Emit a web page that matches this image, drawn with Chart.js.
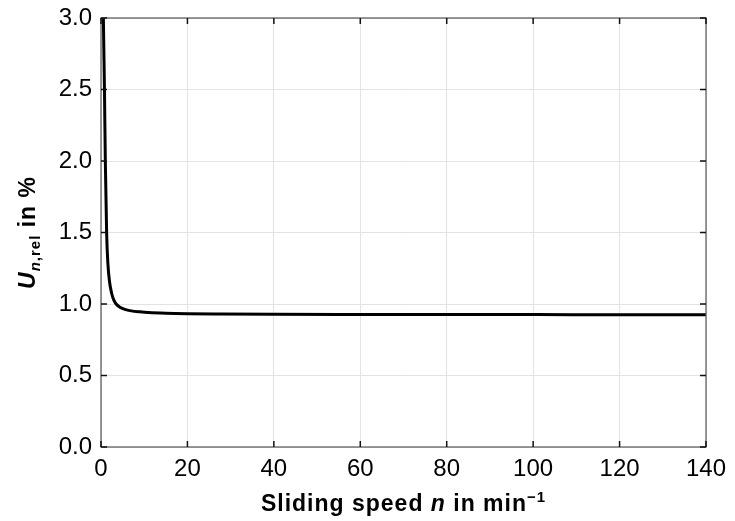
<!DOCTYPE html>
<html>
<head>
<meta charset="utf-8">
<script src="https://cdn.jsdelivr.net/npm/chart.js@4/dist/chart.umd.min.js"></script>
<style>
  html, body { margin: 0; padding: 0; background: #fff; }
  #wrap { width: 735px; height: 521px; }
</style>
</head>
<body>
<div id="wrap"><canvas id="chart" width="735" height="521"></canvas></div>
<script>
// values
const speeds = [0.45, 0.55, 0.8, 1.0, 1.3, 1.6, 2.0, 2.5, 3.0, 3.5, 4.5, 5.5, 7, 9, 11, 15, 20, 27.5, 40, 60, 80, 100, 120, 140];
const uncertainty = [3.3, 3.0, 2.5, 2.0, 1.5, 1.28, 1.15, 1.07, 1.025, 1.0, 0.975, 0.962, 0.952, 0.945, 0.94, 0.935, 0.932, 0.93, 0.928, 0.927, 0.926, 0.926, 0.925, 0.925];
const xTicks = [0, 20, 40, 60, 80, 100, 120, 140];
const yTicks = [0, 0.5, 1.0, 1.5, 2.0, 2.5, 3.0];

const FONT = "'Liberation Sans', Arial, sans-serif";

// draw a row of text pieces with different fonts, centred on (0,0)
function drawPieces(ctx, pieces) {
  ctx.letterSpacing = "1px";
  let total = 0;
  pieces.forEach((p) => {
    ctx.font = p.font;
    p.w = ctx.measureText(p.text).width;
    total += p.w;
  });
  let x = -total / 2;
  ctx.textBaseline = "alphabetic";
  ctx.textAlign = "left";
  pieces.forEach((p) => {
    ctx.font = p.font;
    ctx.fillText(p.text, x, p.dy || 0);
    x += p.w;
  });
}

const framePlugin = {
  id: "frame",
  afterDraw(chart) {
    const ctx = chart.ctx;
    const a = chart.chartArea;
    const sx = chart.scales.x;
    const sy = chart.scales.y;
    ctx.save();
    // box
    ctx.strokeStyle = "#555";
    ctx.lineWidth = 1.2;
    ctx.strokeRect(a.left, a.top, a.right - a.left, a.bottom - a.top);
    // inward ticks
    ctx.strokeStyle = "#111";
    ctx.lineWidth = 1.5;
    ctx.beginPath();
    xTicks.forEach((v) => {
      const px = sx.getPixelForValue(v);
      ctx.moveTo(px, a.bottom);
      ctx.lineTo(px, a.bottom - 6);
      ctx.moveTo(px, a.top);
      ctx.lineTo(px, a.top + 6);
    });
    yTicks.forEach((v) => {
      const py = sy.getPixelForValue(v);
      ctx.moveTo(a.left, py);
      ctx.lineTo(a.left + 6, py);
      ctx.moveTo(a.right, py);
      ctx.lineTo(a.right - 6, py);
    });
    ctx.stroke();

    ctx.fillStyle = "#000";
    // x title
    ctx.save();
    ctx.translate((a.left + a.right) / 2, 511);
    drawPieces(ctx, [
      { text: "Sliding speed ", font: "bold 23px " + FONT },
      { text: "n", font: "italic bold 23px " + FONT },
      { text: " in min", font: "bold 23px " + FONT },
      { text: "\u22121", font: "bold 15px " + FONT, dy: -9 },
    ]);
    ctx.restore();
    // y title
    ctx.save();
    ctx.translate(35, (a.top + a.bottom) / 2);
    ctx.rotate(-Math.PI / 2);
    drawPieces(ctx, [
      { text: "U", font: "italic bold 23px " + FONT },
      { text: "n", font: "italic bold 15px " + FONT, dy: 5 },
      { text: ",rel", font: "bold 15px " + FONT, dy: 5 },
      { text: " in %", font: "bold 23px " + FONT },
    ]);
    ctx.restore();
    ctx.restore();
  },
};

new Chart(document.getElementById("chart").getContext("2d"), {
  type: "line",
  data: {
    datasets: [
      {
        data: speeds.map((s, i) => ({ x: s, y: uncertainty[i] })),
        borderColor: "#000",
        borderWidth: 3,
        pointRadius: 0,
        cubicInterpolationMode: "monotone",
        clip: 0,
      },
    ],
  },
  options: {
    responsive: false,
    animation: false,
    layout: { padding: { left: 0, right: 29, top: 18, bottom: 0 } },
    plugins: { legend: { display: false }, tooltip: { enabled: false } },
    scales: {
      x: {
        type: "linear",
        min: 0,
        max: 140,
        afterBuildTicks: (s) => (s.ticks = xTicks.map((v) => ({ value: v }))),
        afterFit: (s) => {
          s.height = 74;
          s.paddingLeft = 0;
          s.paddingRight = 0;
        },
        ticks: { color: "#000", font: { family: FONT, size: 24 }, padding: 8, maxRotation: 0 },
        grid: { color: "#e3e3e3", drawTicks: false },
        border: { display: false },
      },
      y: {
        min: 0,
        max: 3,
        afterBuildTicks: (s) => (s.ticks = yTicks.map((v) => ({ value: v }))),
        afterFit: (s) => {
          s.width = 101;
          s.paddingTop = 0;
          s.paddingBottom = 0;
        },
        ticks: {
          color: "#000",
          font: { family: FONT, size: 24 },
          padding: 9,
          callback: (v) => v.toFixed(1),
        },
        grid: { color: "#e3e3e3", drawTicks: false },
        border: { display: false },
      },
    },
  },
  plugins: [framePlugin],
});
</script>
</body>
</html>
